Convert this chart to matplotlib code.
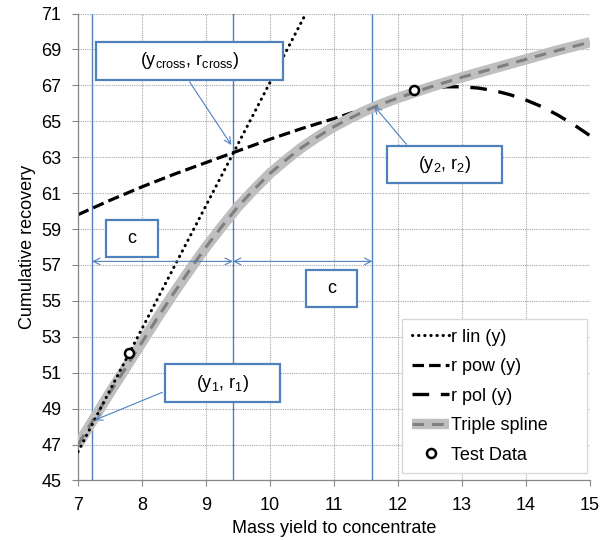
import matplotlib
matplotlib.use("Agg")
import matplotlib.pyplot as plt
from matplotlib.patches import Rectangle
from matplotlib.legend_handler import HandlerTuple

plt.rcParams["font.family"] = ["Liberation Sans", "DejaVu Sans"]
plt.rcParams["mathtext.fontset"] = "custom"
plt.rcParams["mathtext.rm"] = "Liberation Sans"
plt.rcParams["mathtext.it"] = "Liberation Sans"

# values
lin_y = [7.0, 10.56]
lin_r = [46.6, 71.0]

pow_y = [7.0, 7.5, 8.0, 8.5, 9.0, 9.5, 10.0, 10.5, 11.0, 11.6]
pow_r = [59.8, 60.6, 61.35, 62.05, 62.7, 63.35, 64.0, 64.6, 65.15, 65.85]

pol_y = [12.25, 12.5, 12.75, 13.0, 13.25, 13.5, 13.75, 14.0, 14.25, 14.5, 14.75, 15.0]
pol_r = [66.67, 66.83, 66.92, 66.92, 66.85, 66.71, 66.48, 66.18, 65.81, 65.34, 64.8, 64.2]

spline_y = [7.0, 7.25, 7.5, 7.75, 8.0, 8.25, 8.5, 8.75, 9.0, 9.25, 9.5, 9.75,
            10.0, 10.25, 10.5, 10.75, 11.0, 11.25, 11.5, 11.75, 12.0,
            12.5, 13.0, 13.5, 14.0, 14.5, 15.0]
spline_r = [47.0, 48.45, 49.9, 51.3, 52.7, 54.1, 55.45, 56.75, 58.0, 59.15, 60.25, 61.2,
            62.1, 62.85, 63.55, 64.15, 64.7, 65.17, 65.6, 65.97, 66.3,
            66.9, 67.45, 67.95, 68.45, 68.95, 69.4]

test_y = [7.8, 12.25]
test_r = [52.1, 66.72]

y1, r1 = 7.22, 48.3
ycross, rcross = 9.42, 63.55
y2, r2 = 11.6, 65.96
c_level = 57.2

blue = "#4F81BD"
fs = 13

fig = plt.figure(figsize=(6.08, 5.40), dpi=100)
ax = fig.add_axes([0.1283, 0.1102, 0.8421, 0.8648])

ax.set_xlim(7, 15)
ax.set_ylim(45, 71)
ax.set_xticks(range(7, 16))
ax.set_yticks(range(45, 72, 2))
ax.grid(True, color="#A6A6A6", linestyle=(0, (1, 1)), linewidth=0.8)
ax.set_axisbelow(True)
for s in ["top", "right"]:
    ax.spines[s].set_visible(False)
for s in ["left", "bottom"]:
    ax.spines[s].set_color("#868686")
    ax.spines[s].set_linewidth(0.9)
ax.tick_params(direction="out", length=4, color="#868686", labelsize=fs, pad=8)

for v in [y1, ycross, y2]:
    ax.axvline(v, color=blue, lw=1.0, zorder=1.5)

h_pow, = ax.plot(pow_y, pow_r, color="black", lw=2.3, linestyle=(0, (3.6, 1.6)), zorder=2)
h_pol, = ax.plot(pol_y, pol_r, color="black", lw=2.4, linestyle=(0, (5, 3.5)), zorder=2)
h_band, = ax.plot(spline_y, spline_r, color="#BFBFBF", lw=7.5, solid_capstyle="butt", zorder=3)
h_sdash, = ax.plot(spline_y, spline_r, color="#7F7F7F", lw=2.2, linestyle=(0, (3.8, 2.6)), zorder=3.1)
h_lin, = ax.plot(lin_y, lin_r, color="black", lw=2.2, linestyle=(0, (0.1, 1.9)),
                 dash_capstyle="round", zorder=4)
h_test, = ax.plot(test_y, test_r, "o", ms=6.5, mfc="white", mec="black", mew=1.8, zorder=5)

ax.set_xlabel("Mass yield to concentrate", fontsize=fs, labelpad=4)
ax.set_ylabel("Cumulative recovery", fontsize=fs, labelpad=4)


def box(x0, x1, r0, r1, text):
    ax.add_patch(Rectangle((x0, r0), x1 - x0, r1 - r0, facecolor="white",
                           edgecolor=blue, lw=1.6, zorder=6))
    ax.text((x0 + x1) / 2, (r0 + r1) / 2, text, ha="center", va="center",
            fontsize=fs, zorder=7)


arrow = dict(arrowstyle="->", color=blue, lw=0.8, mutation_scale=12)

box(7.281, 10.198, 67.32, 69.40, r"(y$_{\mathrm{cross}}$, r$_{\mathrm{cross}}$)")
ax.annotate("", xy=(ycross, rcross), xytext=(8.72, 67.32), arrowprops=arrow, zorder=6)

box(11.828, 13.625, 61.54, 63.60, r"(y$_{\mathrm{2}}$, r$_{\mathrm{2}}$)")
ax.annotate("", xy=(y2, r2), xytext=(12.16, 63.6), arrowprops=arrow, zorder=6)

box(8.359, 10.156, 49.38, 51.46, r"(y$_{\mathrm{1}}$, r$_{\mathrm{1}}$)")
ax.annotate("", xy=(y1, r1), xytext=(8.359, 49.97), arrowprops=arrow, zorder=6)

box(7.4375, 8.255, 57.45, 59.49, "c")
box(10.5625, 11.36, 54.66, 56.72, "c")
darrow = dict(arrowstyle="<->", color=blue, lw=0.8, mutation_scale=12,
              shrinkA=0, shrinkB=0)
ax.annotate("", xy=(ycross, c_level), xytext=(y1, c_level), arrowprops=darrow, zorder=6)
ax.annotate("", xy=(y2, c_level), xytext=(ycross, c_level), arrowprops=darrow, zorder=6)

leg = ax.legend([h_lin, h_pow, h_pol, (h_band, h_sdash), h_test],
                ["r lin (y)", "r pow (y)", "r pol (y)", "Triple spline", "Test Data"],
                handler_map={tuple: HandlerTuple(ndivide=1)},
                loc="lower left", bbox_to_anchor=(0.633, 0.015, 0.361, 0.32),
                mode="expand", fontsize=fs, handlelength=2.05, handletextpad=0.1,
                labelspacing=0.69, borderpad=0.55, fancybox=False, framealpha=1,
                edgecolor="#D9D9D9", borderaxespad=0)
leg.set_zorder(8)

fig.savefig("out.png", dpi=100)
